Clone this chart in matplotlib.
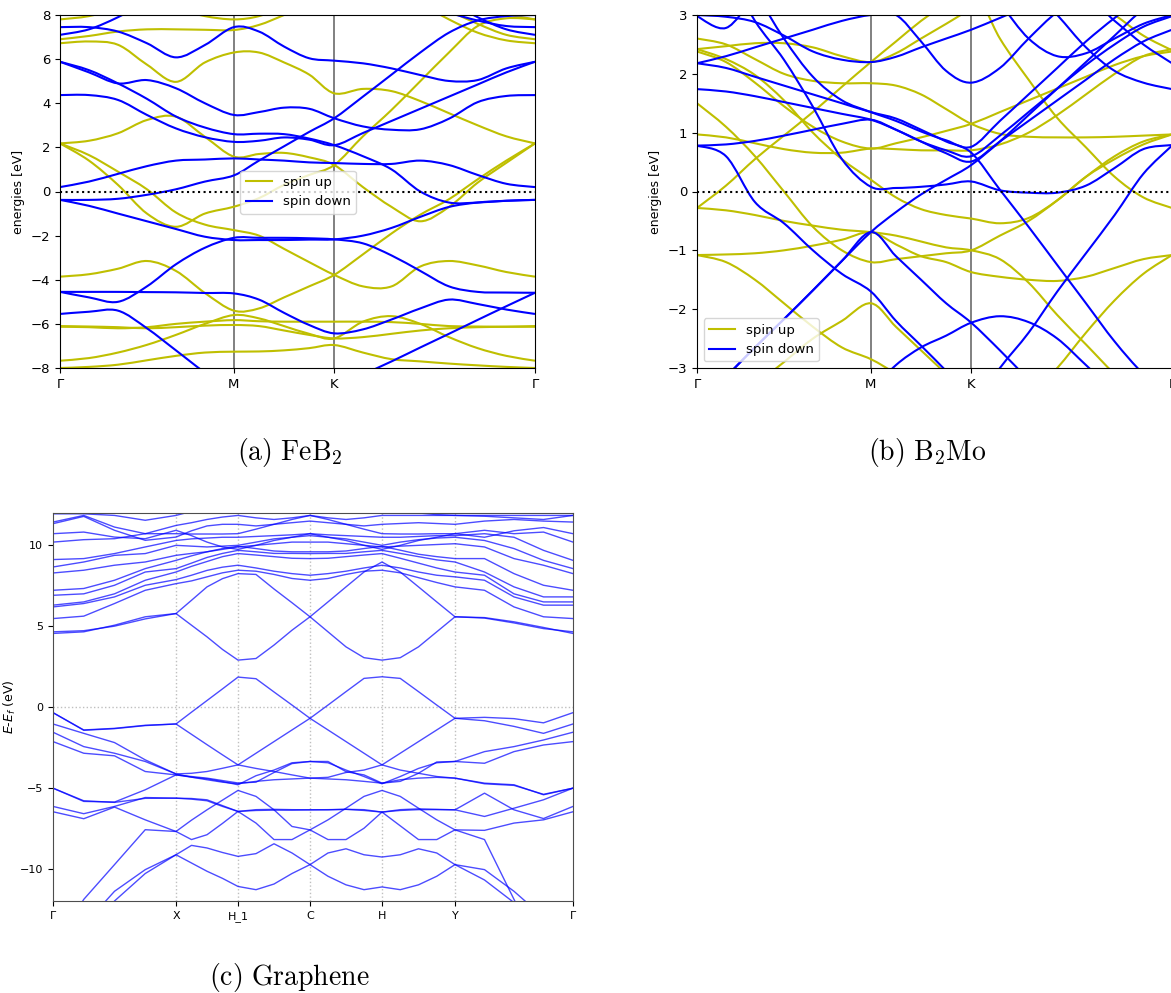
import numpy as np
import matplotlib
matplotlib.use("Agg")
import matplotlib.pyplot as plt
from matplotlib.path import Path
from matplotlib.patches import PathPatch

# ---------------------------------------------------------------- data
HEX_LABELS = ["Γ", "M", "K", "Γ"]
HEX_SEGMENTS = [0.5774, 0.3333, 0.6667]     # |ΓM|, |MK|, |KΓ|
HEX_DIVISIONS = [6, 4, 7]                   # sampled k-points per segment

# FeB2 (energies in eV at the sampled k-points)
FEB2_UP = [
    [7.8, 7.95, 8.3, 8.7, 9.1, 9.3, 9.3, 9.3, 9.3, 9.3, 9.3, 9.3, 9.3, 9.2, 8.9, 8.5, 8.05, 7.8],
    [9.0, 9.0, 9.0, 8.7, 8.3, 7.95, 7.8, 7.95, 8.4, 8.9, 9.3, 9.3, 9.2, 8.8, 8.2, 7.6, 7.1, 6.9],
    [6.9, 7.05, 7.25, 7.35, 7.35, 7.33, 7.32, 7.55, 8.0, 8.5, 9.0, 9.2, 9.0, 8.5, 7.8, 7.2, 6.85, 6.72],
    [6.72, 6.8, 6.65, 5.75, 4.97, 5.85, 6.3, 6.3, 5.85, 5.3, 4.45, 4.65, 4.55, 4.1, 3.55, 3.0, 2.5, 2.18],
    [2.18, 2.3, 2.64, 3.24, 3.39, 2.48, 1.58, 1.7, 1.75, 1.55, 1.2, 0.2, -0.7, -1.35, -0.7, 0.4, 1.3, 2.18],
    [2.18, 1.4, 0.3, -1.0, -1.6, -1.0, -0.69, -0.3, 0.3, 0.75, 1.2, 2.5, 3.7, 5.0, 6.3, 7.5, 7.85, 7.8],
    [2.18, 1.65, 0.9, 0.1, -0.95, -1.5, -1.75, -2.0, -2.6, -3.2, -3.78, -4.3, -4.3, -3.4, -3.15, -3.35, -3.65, -3.86],
    [-3.86, -3.75, -3.5, -3.15, -3.6, -4.6, -5.4, -5.3, -4.8, -4.3, -3.78, -2.85, -1.9, -1.05, -0.35, 0.55, 1.4, 2.18],
    [-7.67, -7.55, -7.3, -6.95, -6.5, -6.0, -5.6, -5.75, -6.1, -6.45, -6.66, -5.9, -5.65, -6.0, -6.6, -7.1, -7.45, -7.67],
    [-6.13, -6.15, -6.2, -6.15, -6.0, -5.9, -5.83, -5.88, -5.9, -5.9, -5.9, -5.9, -5.92, -6.0, -6.1, -6.12, -6.13, -6.13],
    [-6.1, -6.12, -6.15, -6.2, -6.15, -6.08, -6.05, -6.1, -6.3, -6.5, -6.66, -6.6, -6.45, -6.3, -6.2, -6.15, -6.13, -6.1],
    [-8.0, -7.95, -7.85, -7.65, -7.45, -7.3, -7.26, -7.25, -7.2, -7.1, -6.96, -7.3, -7.6, -7.7, -7.8, -7.88, -7.95, -8.0],
]
FEB2_DOWN = [
    [8.0, 8.4, 9.0, 9.5, 9.8, 9.8, 9.8, 9.8, 9.8, 9.8, 9.8, 9.8, 9.6, 9.2, 8.6, 7.9, 7.35, 7.1],
    [7.1, 7.35, 7.9, 8.6, 9.2, 9.4, 9.4, 9.4, 9.4, 9.4, 9.4, 9.2, 8.9, 8.5, 8.1, 7.75, 7.5, 7.45],
    [7.45, 7.45, 7.25, 6.72, 6.08, 6.64, 7.45, 7.25, 6.57, 6.04, 5.93, 5.81, 5.58, 5.28, 5.01, 5.05, 5.58, 5.88],
    [5.88, 5.4, 4.9, 5.05, 4.68, 4.0, 3.47, 3.6, 3.8, 3.75, 3.32, 2.95, 2.8, 2.82, 3.3, 4.05, 4.33, 4.37],
    [5.88, 5.5, 4.9, 4.2, 3.4, 2.9, 2.6, 2.62, 2.6, 2.4, 2.1, 1.6, 1.0, 0.0, -0.5, -0.5, -0.42, -0.38],
    [4.37, 4.37, 4.15, 3.47, 2.86, 2.46, 2.25, 2.3, 2.45, 2.35, 2.1, 2.65, 3.2, 3.75, 4.3, 4.85, 5.4, 5.88],
    [0.2, 0.45, 0.8, 1.15, 1.4, 1.45, 1.5, 1.45, 1.4, 1.32, 1.29, 1.25, 1.25, 1.4, 1.2, 0.75, 0.35, 0.2],
    [-0.38, -0.38, -0.33, -0.15, 0.1, 0.45, 0.73, 1.4, 2.05, 2.7, 3.32, 4.3, 5.3, 6.3, 7.2, 7.75, 7.95, 8.0],
    [-0.38, -0.65, -1.0, -1.35, -1.7, -2.05, -2.2, -2.2, -2.2, -2.18, -2.17, -2.0, -1.65, -1.15, -0.7, -0.5, -0.42, -0.38],
    [-4.55, -4.8, -5.0, -4.3, -3.3, -2.55, -2.1, -2.1, -2.1, -2.12, -2.17, -2.35, -2.9, -3.6, -4.3, -4.55, -4.58, -4.59],
    [-4.55, -4.55, -4.55, -4.56, -4.57, -4.6, -4.62, -4.9, -5.5, -6.05, -6.43, -6.25, -5.8, -5.3, -4.9, -5.1, -5.35, -5.55],
    [-5.55, -5.45, -5.4, -6.2, -7.2, -8.2, -9.0, -9.3, -9.5, -9.3, -8.93, -8.3, -7.7, -7.07, -6.45, -5.82, -5.2, -4.59],
]

# B2Mo
B2MO_UP = [
    [-0.28, 0.1, 0.55, 0.95, 1.35, 1.78, 2.2, 2.55, 2.9, 3.2, 3.5, 2.6, 1.9, 1.25, 0.75, 0.25, -0.1, -0.28],
    [2.6, 2.5, 2.25, 2.0, 1.88, 1.84, 1.84, 1.8, 1.65, 1.4, 1.15, 0.98, 0.93, 0.92, 0.92, 0.93, 0.95, 0.97],
    [2.38, 2.2, 1.85, 1.45, 1.1, 0.85, 0.73, 0.82, 0.92, 1.03, 1.15, 1.35, 1.55, 1.75, 1.95, 2.15, 2.3, 2.38],
    [0.97, 0.92, 0.82, 0.72, 0.66, 0.66, 0.73, 0.72, 0.7, 0.7, 0.7, 0.8, 1.0, 1.3, 1.65, 2.0, 2.3, 2.42],
    [2.42, 2.47, 2.52, 2.52, 2.45, 2.3, 2.2, 2.35, 2.6, 2.85, 3.1, 3.3, 3.5, 3.5, 3.3, 3.0, 2.65, 2.4],
    [2.42, 2.25, 1.98, 1.55, 1.0, 0.55, 0.2, -0.1, -0.3, -0.4, -0.46, -0.54, -0.45, -0.15, 0.25, 0.6, 0.85, 0.97],
    [-0.28, -0.32, -0.4, -0.5, -0.58, -0.65, -0.69, -0.75, -0.85, -0.95, -1.0, -1.15, -1.55, -2.1, -2.6, -3.1, -3.5, -3.8],
    [-1.08, -1.07, -1.05, -1.0, -0.92, -0.82, -0.69, -0.9, -1.1, -1.2, -1.37, -1.45, -1.5, -1.52, -1.45, -1.3, -1.15, -1.08],
    [-1.08, -1.2, -1.5, -1.9, -2.3, -2.65, -2.85, -3.1, -3.4, -3.6, -3.8, -4.0, -4.2, -4.4, -4.5, -4.5, -4.5, -4.5],
    [1.5, 1.1, 0.6, 0.0, -0.6, -1.0, -1.2, -1.15, -1.1, -1.05, -1.0, -0.75, -0.5, -0.15, 0.25, 0.55, 0.8, 0.97],
    [-4.2, -3.8, -3.3, -2.9, -2.5, -2.2, -1.9, -2.3, -2.7, -3.1, -3.5, -3.9, -4.2, -4.4, -4.5, -4.5, -4.5, -4.5],
    [-5.0, -5.0, -5.0, -5.0, -5.0, -5.0, -5.0, -5.0, -5.0, -5.0, -5.0, -4.5, -3.5, -3.0, -2.4, -1.85, -1.4, -1.08],
]
B2MO_DOWN = [
    [3.0, 2.97, 2.88, 2.65, 2.38, 2.24, 2.2, 2.29, 2.45, 2.6, 2.75, 2.95, 3.15, 3.3, 3.3, 3.2, 3.1, 3.0],
    [2.98, 2.78, 3.3, 3.6, 3.8, 3.8, 3.8, 3.8, 3.8, 3.8, 3.8, 3.2, 2.6, 2.3, 2.35, 2.6, 2.85, 3.0],
    [2.18, 2.3, 2.45, 2.6, 2.75, 2.9, 3.0, 3.0, 2.55, 2.05, 1.85, 2.1, 2.6, 3.05, 3.3, 2.9, 2.5, 2.18],
    [2.18, 2.1, 1.95, 1.8, 1.65, 1.5, 1.35, 1.24, 1.05, 0.85, 0.66, 0.03, -0.6, -1.25, -1.9, -2.55, -3.1, -3.5],
    [1.74, 1.7, 1.62, 1.52, 1.42, 1.32, 1.22, 1.05, 0.85, 0.7, 0.6, 0.95, 1.35, 1.75, 2.15, 2.5, 2.8, 2.98],
    [0.78, 0.8, 0.86, 0.95, 1.05, 1.15, 1.22, 1.05, 0.85, 0.65, 0.51, 0.85, 1.2, 1.55, 1.9, 2.25, 2.55, 2.75],
    [4.2, 3.8, 2.9, 2.24, 1.44, 0.55, 0.08, 0.06, 0.08, 0.12, 0.17, 0.02, -0.02, -0.02, 0.1, 0.4, 0.72, 0.79],
    [4.5, 4.2, 3.4, 2.6, 1.95, 1.55, 1.35, 1.2, 1.02, 0.87, 0.76, 1.2, 1.65, 2.1, 2.55, 2.95, 3.3, 3.5],
    [5.0, 5.0, 5.0, 5.0, 5.0, 5.0, 5.0, 5.0, 5.0, 5.0, 4.5, 4.0, 3.5, 3.0, 2.45, 2.05, 1.85, 1.74],
    [0.78, 0.6, -0.18, -0.54, -1.0, -1.4, -1.7, -2.2, -2.62, -3.05, -3.5, -3.9, -4.2, -4.4, -4.5, -4.5, -4.5, -4.5],
    [-3.65, -3.15, -2.65, -2.17, -1.68, -1.18, -0.69, -0.35, -0.05, 0.2, 0.45, 0.85, 1.3, 1.75, 2.2, 2.65, 3.1, 3.4],
    [-3.65, -3.15, -2.65, -2.17, -1.68, -1.18, -0.69, -1.1, -1.5, -1.9, -2.23, -2.7, -3.2, -3.7, -4.1, -4.3, -4.4, -4.5],
    [-5.0, -5.0, -5.0, -5.0, -4.5, -3.9, -3.4, -2.95, -2.65, -2.45, -2.23, -2.12, -2.22, -2.5, -2.95, -3.4, -3.8, -4.0],
    [-6.0, -6.0, -6.0, -6.0, -5.5, -5.0, -4.7, -4.5, -4.3, -4.0, -3.7, -3.0, -2.4, -1.7, -1.05, -0.4, 0.3, 0.78],
]

# Graphene
GR_LABELS = ["Γ", "X", "H_1", "C", "H", "Y", "Γ"]
GR_SEGMENTS = [1.23, 0.62, 0.72, 0.72, 0.73, 1.18]
GR_DIVISIONS = [4, 4, 4, 4, 4, 4]
GR_BANDS = [
    # valence
    [-0.35, -1.42, -1.32, -1.13, -1.05, -0.32, 0.4, 1.12, 1.85, 1.75, 0.93, 0.12, -0.7, 0.12, 0.95, 1.77, 1.87, 1.77, 0.95, 0.12, -0.7, -0.64, -0.72, -0.98, -0.35],
    [-0.35, -1.44, -1.34, -1.15, -1.05, -1.69, -2.33, -2.96, -3.58, -2.86, -2.14, -1.42, -0.7, -1.42, -2.14, -2.86, -3.58, -2.86, -2.14, -1.42, -0.7, -0.85, -1.2, -1.63, -1.05],
    [-1.05, -1.63, -2.2, -3.27, -4.14, -4.1, -3.99, -3.79, -3.58, -3.8, -3.99, -4.2, -4.4, -4.35, -4.05, -3.9, -3.58, -3.9, -4.1, -4.3, -4.4, -4.71, -4.81, -5.43, -5.02],
    [-1.56, -2.45, -2.86, -3.37, -4.14, -4.34, -4.44, -4.61, -4.81, -4.25, -3.9, -3.45, -3.37, -3.37, -4.0, -4.2, -4.71, -4.6, -4.1, -3.4, -3.37, -2.76, -2.45, -2.04, -1.56],
    [-2.14, -2.86, -3.02, -3.99, -4.2, -4.3, -4.4, -4.55, -4.7, -4.65, -4.05, -3.5, -3.37, -3.45, -3.9, -4.3, -4.75, -4.3, -3.8, -3.45, -3.37, -3.48, -2.76, -2.35, -2.14],
    [-5.02, -5.84, -5.88, -5.12, -4.2, -4.34, -4.5, -4.65, -4.75, -4.6, -4.5, -4.45, -4.4, -4.45, -4.5, -4.6, -4.71, -4.5, -4.4, -4.35, -4.4, -4.75, -4.85, -5.4, -5.02],
    [-6.15, -6.6, -6.15, -5.6, -5.64, -5.66, -5.74, -6.1, -6.46, -6.4, -6.38, -6.38, -6.36, -6.36, -6.33, -6.4, -6.5, -6.35, -6.3, -6.33, -6.36, -5.33, -6.36, -6.9, -6.15],
    [-5.02, -5.8, -5.9, -5.65, -5.64, -5.7, -5.8, -6.15, -6.46, -6.35, -6.33, -6.35, -6.36, -6.35, -6.33, -6.35, -6.5, -6.4, -6.35, -6.35, -6.36, -6.77, -6.26, -5.74, -5.02],
    [-6.48, -6.91, -6.19, -6.98, -7.7, -7.0, -6.36, -5.76, -5.16, -5.53, -6.36, -7.39, -7.6, -6.98, -6.26, -5.53, -5.16, -5.53, -6.26, -6.98, -7.6, -7.63, -7.18, -6.98, -6.48],
    [-15.0, -11.9, -9.75, -7.59, -7.7, -8.2, -7.9, -7.2, -6.46, -7.18, -8.2, -8.2, -7.6, -8.2, -8.2, -7.5, -6.5, -7.35, -8.2, -8.2, -7.6, -8.2, -11.9, -15.5, -17.0],
    [-16.0, -13.5, -11.4, -10.06, -9.14, -8.56, -8.72, -9.0, -9.24, -9.07, -8.46, -9.03, -9.75, -9.03, -8.77, -9.14, -9.28, -9.14, -8.77, -9.03, -9.75, -10.06, -11.4, -13.0, -14.5],
    [-17.0, -14.5, -12.0, -10.3, -9.14, -9.65, -10.16, -10.6, -11.1, -11.3, -10.95, -10.3, -9.75, -10.47, -11.0, -11.3, -11.13, -11.3, -11.0, -10.47, -9.75, -10.7, -12.1, -13.5, -15.0],
    # conduction
    [4.55, 4.65, 5.06, 5.58, 5.78, 5.06, 4.34, 3.56, 2.9, 3.0, 3.83, 4.75, 5.58, 4.65, 3.72, 3.05, 2.9, 3.05, 3.72, 4.65, 5.58, 5.53, 5.27, 4.92, 4.55],
    [4.65, 4.72, 5.0, 5.45, 5.78, 6.6, 7.43, 7.94, 8.25, 8.2, 7.3, 6.45, 5.58, 6.5, 7.43, 8.35, 8.97, 8.35, 7.43, 6.5, 5.58, 5.5, 5.2, 4.85, 4.65],
    [5.47, 5.62, 6.4, 7.22, 7.63, 7.8, 8.05, 8.3, 8.46, 8.4, 8.2, 7.95, 7.84, 7.95, 8.2, 8.4, 8.46, 8.3, 8.0, 7.7, 7.43, 7.22, 6.19, 5.58, 5.47],
    [6.19, 6.4, 6.81, 7.53, 7.88, 8.15, 8.45, 8.65, 8.77, 8.6, 8.4, 8.25, 8.15, 8.25, 8.4, 8.6, 8.77, 8.6, 8.35, 8.15, 8.05, 7.84, 6.81, 6.3, 6.3],
    [6.3, 6.5, 7.0, 7.84, 8.35, 8.7, 9.0, 9.3, 9.49, 9.4, 9.3, 9.2, 9.18, 9.2, 9.3, 9.4, 9.49, 9.2, 8.9, 8.6, 8.35, 8.15, 7.0, 6.5, 6.5],
    [6.91, 7.0, 7.53, 8.35, 8.56, 8.9, 9.25, 9.5, 9.69, 9.6, 9.5, 9.5, 9.49, 9.5, 9.5, 9.6, 9.69, 9.5, 9.3, 9.1, 8.97, 8.35, 7.43, 6.81, 6.81],
    [7.22, 7.33, 7.84, 8.56, 9.07, 9.35, 9.6, 9.8, 9.94, 9.8, 9.65, 9.6, 9.6, 9.6, 9.65, 9.8, 9.94, 9.7, 9.45, 9.3, 9.18, 9.18, 8.25, 7.53, 7.22],
    [8.29, 8.46, 8.77, 8.97, 9.38, 9.5, 9.6, 9.75, 9.9, 10.0, 10.1, 10.2, 10.2, 10.2, 10.1, 10.0, 9.9, 9.95, 10.0, 10.05, 10.1, 9.9, 9.18, 8.77, 8.25],
    [8.66, 8.97, 9.38, 9.49, 10.0, 9.95, 9.9, 9.95, 10.0, 10.2, 10.4, 10.5, 10.6, 10.5, 10.4, 10.2, 10.0, 10.2, 10.35, 10.45, 10.5, 10.3, 9.8, 9.07, 8.56],
    [9.12, 9.18, 9.49, 9.9, 10.3, 10.4, 10.45, 10.5, 10.5, 10.55, 10.6, 10.65, 10.72, 10.65, 10.6, 10.55, 10.5, 10.5, 10.55, 10.6, 10.6, 10.72, 10.5, 9.69, 9.07],
    [10.2, 10.35, 10.41, 10.72, 10.72, 10.7, 10.7, 10.7, 10.72, 11.0, 11.3, 11.6, 11.85, 11.6, 11.3, 11.0, 10.72, 10.7, 10.7, 10.72, 10.72, 10.93, 10.72, 10.82, 10.2],
    [10.72, 10.82, 10.51, 10.41, 10.93, 10.6, 10.2, 9.9, 9.75, 10.0, 10.3, 10.5, 10.72, 10.5, 10.3, 10.0, 9.75, 10.0, 10.3, 10.5, 10.72, 10.5, 10.9, 11.1, 10.72],
    [11.34, 11.79, 10.93, 10.31, 10.51, 10.9, 11.2, 11.3, 11.3, 11.2, 11.3, 11.4, 11.5, 11.4, 11.3, 11.2, 11.3, 11.35, 11.4, 11.35, 11.3, 11.5, 11.6, 11.5, 11.44],
    [11.44, 11.85, 11.13, 10.72, 11.23, 11.4, 11.6, 11.75, 11.85, 11.7, 11.6, 11.7, 11.85, 11.7, 11.6, 11.7, 11.85, 11.85, 11.85, 11.85, 11.85, 11.8, 11.7, 11.6, 11.85],
    [11.95, 11.95, 11.85, 11.55, 11.85, 12.1, 12.3, 12.3, 12.3, 12.4, 12.5, 12.5, 12.5, 12.5, 12.5, 12.4, 12.3, 12.2, 12.0, 11.9, 11.85, 11.85, 11.85, 11.85, 11.85],
]

CAPTIONS = [r"$\mathrm{(a)\ FeB_2}$", r"$\mathrm{(b)\ B_2Mo}$", r"$\mathrm{(c)\ Graphene}$"]

# ---------------------------------------------------------------- helpers
def kpath(segments, divisions):
    ks, ticks = [0.0], [0.0]
    for length, n in zip(segments, divisions):
        start = ticks[-1]
        for i in range(1, n + 1):
            ks.append(start + length * i / n)
        ticks.append(start + length)
    return np.array(ks), ticks


def smooth_path(x, y):
    """Catmull-Rom curve through the points, drawn as cubic Bezier segments."""
    pts = np.column_stack([x, y]).astype(float)
    pad = np.vstack([pts[0], pts, pts[-1]])
    verts, codes = [pts[0]], [Path.MOVETO]
    for i in range(len(pts) - 1):
        p0, p1, p2, p3 = pad[i], pad[i + 1], pad[i + 2], pad[i + 3]
        verts += [p1 + (p2 - p0) / 6.0, p2 - (p3 - p1) / 6.0, p2]
        codes += [Path.CURVE4] * 3
    return Path(verts, codes)


def band_panel(ax, up, down, ylim, yticks, legend_kw):
    k, ticks = kpath(HEX_SEGMENTS, HEX_DIVISIONS)
    for band in up:
        assert len(band) == len(k)
        ax.add_patch(PathPatch(smooth_path(k, band), fill=False, edgecolor="y", lw=1.5))
    for band in down:
        assert len(band) == len(k)
        ax.add_patch(PathPatch(smooth_path(k, band), fill=False, edgecolor="b", lw=1.5))
    ax.plot([], [], color="y", lw=1.5, label="spin up")
    ax.plot([], [], color="b", lw=1.5, label="spin down")
    for t in ticks[1:-1]:
        ax.axvline(t, color="0.5", lw=1.4, zorder=0.5)
    ax.axhline(0, color="k", ls=":", lw=1.5)
    ax.set_xlim(ticks[0], ticks[-1])
    ax.set_ylim(*ylim)
    ax.set_yticks(yticks)
    ax.set_xticks(ticks)
    ax.set_xticklabels(HEX_LABELS)
    ax.set_ylabel("energies [eV]", fontsize=9)
    ax.tick_params(labelsize=9.5)
    ax.legend(fontsize=9.5, **legend_kw)


# ---------------------------------------------------------------- figure
plt.rcParams["mathtext.fontset"] = "cm"
W, H = 1171, 993
fig = plt.figure(figsize=(W / 100, H / 100), dpi=100)


def axes_px(left, top, right, bottom):
    return fig.add_axes([left / W, 1 - bottom / H, (right - left) / W, (bottom - top) / H])


ax_a = axes_px(60, 15, 535, 368)
band_panel(ax_a, FEB2_UP, FEB2_DOWN, (-8, 8), np.arange(-8, 9, 2),
           dict(loc="upper left", bbox_to_anchor=(0.366, 0.578)))

ax_b = axes_px(697, 15, 1172, 368)
band_panel(ax_b, B2MO_UP, B2MO_DOWN, (-3, 3), np.arange(-3, 4, 1),
           dict(loc="lower left"))

ax_c = axes_px(53, 513, 573, 901)
kg, gticks = kpath(GR_SEGMENTS, GR_DIVISIONS)
for band in GR_BANDS:
    assert len(band) == len(kg)
    ax_c.plot(kg, band, color="b", alpha=0.7, lw=1.0)
for t in gticks[1:-1]:
    ax_c.axvline(t, color="0.75", ls=":", lw=1.0, zorder=0.5)
ax_c.axhline(0, color="0.75", ls=":", lw=1.0, zorder=0.5)
ax_c.set_xlim(gticks[0], gticks[-1])
ax_c.set_ylim(-12, 12)
ax_c.set_yticks([-10, -5, 0, 5, 10])
ax_c.set_xticks(gticks)
ax_c.set_xticklabels(GR_LABELS)
ax_c.tick_params(labelsize=8)
ylab = ax_c.set_ylabel("$E$-$E_f$ (eV)", fontsize=9)
ylab.set_math_fontfamily("dejavusans")
ax_c.yaxis.set_label_coords(-0.068, 0.5)
for s in ax_c.spines.values():
    s.set_color("0.3")

fig.text(289.5 / W, 1 - 452 / H, CAPTIONS[0], ha="center", va="center", fontsize=20)
fig.text(927 / W, 1 - 452 / H, CAPTIONS[1], ha="center", va="center", fontsize=20)
fig.text(289.5 / W, 1 - 977 / H, CAPTIONS[2], ha="center", va="center", fontsize=20)

fig.savefig("out.png", dpi=100)
